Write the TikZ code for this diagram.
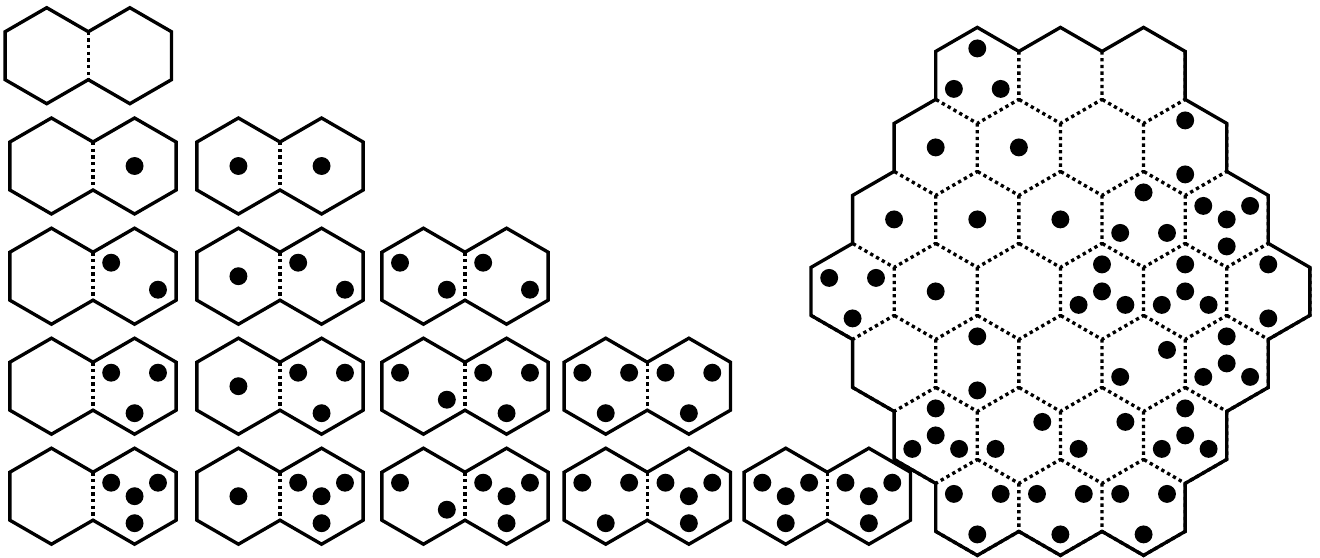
\documentclass[tikz,border=0pt]{standalone}
\tikzset{
  rim/.style={line width=1.9pt},
  seam/.style={line width=1.9pt, dash pattern=on 1.9pt off 1.9pt},
}
% pip layouts, offsets from the cell centre
\def\pipsnone{}
\def\pipsone{0/0}
\def\pipstwo{-23.4/-13.5, 23.4/13.5}
\def\pipsthree{-23.4/-13.5, 23.4/-13.5, 0/27}
\def\pipsfour{-23.4/-13.5, 23.4/-13.5, 0/27, 0/0}
\def\pipsthreeinv{0/-27, -23.4/13.5, 23.4/13.5}
\def\pipsfourinv{0/-27, -23.4/13.5, 23.4/13.5, 0/0}
\def\pipspair{0/-27, 0/27}
\def\pipsslant{23.4/-13.5, -23.4/13.5}
% #1,#2 middle of the shared side, #3 left pips, #4 right pips
\newcommand{\domino}[4]{
  \draw[rim] (#1,#2-24) -- ++(-41.57,-24) -- ++(-41.57,24) -- ++(0,48) -- ++(41.57,24)
    -- ++(41.57,-24) -- ++(41.57,24) -- ++(41.57,-24) -- ++(0,-48) -- ++(-41.57,-24) -- cycle;
  \draw[seam] (#1,#2-24) -- (#1,#2+24);
  \foreach \u/\v in #3 {\fill (#1-41.57,#2) ++(\u,\v) circle (5.1pt);}
  \foreach \u/\v in #4 {\fill (#1+41.57,#2) ++(\u,\v) circle (5.1pt);}
}
% board cell: east, south-east and south-west sides only
\newcommand{\cell}[3]{
  \draw[seam] (#1+41.57,#2-24) -- ++(0,48) -- ++(-41.57,24) -- ++(-41.57,-24);
  \foreach \u/\v in #3 {\fill (#1,#2) ++(\u,\v) circle (5.1pt);}
}
\begin{document}
\begin{tikzpicture}[x=0.02cm,y=-0.02cm]
\useasboundingbox (0,0) rectangle (1320,558);
% dominoes
\domino{88.3}{55.7}{\pipsnone}{\pipsnone}
\domino{93}{166}{\pipsnone}{\pipsone}
\domino{280}{166}{\pipsone}{\pipsone}
\domino{93}{276.2}{\pipsnone}{\pipstwo}
\domino{280}{276.2}{\pipsone}{\pipstwo}
\domino{465}{276.2}{\pipstwo}{\pipstwo}
\domino{93}{386.2}{\pipsnone}{\pipsthree}
\domino{280}{386.2}{\pipsone}{\pipsthree}
\domino{465}{386.2}{\pipstwo}{\pipsthree}
\domino{647.3}{386.2}{\pipsthree}{\pipsthree}
\domino{93}{496.2}{\pipsnone}{\pipsfour}
\domino{280}{496.2}{\pipsone}{\pipsfour}
\domino{465}{496.2}{\pipstwo}{\pipsfour}
\domino{647.3}{496.2}{\pipsthree}{\pipsfour}
\domino{827.3}{496.2}{\pipsfour}{\pipsfour}
% board
\cell{977.3}{75.4}{\pipsthreeinv} \cell{1060.4}{75.4}{\pipsnone} \cell{1143.6}{75.4}{\pipsnone}
\cell{935.7}{147.4}{\pipsone} \cell{1018.9}{147.4}{\pipsone} \cell{1102.0}{147.4}{\pipsnone} \cell{1185.2}{147.4}{\pipspair}
\cell{894.1}{219.4}{\pipsone} \cell{977.3}{219.4}{\pipsone} \cell{1060.4}{219.4}{\pipsone} \cell{1143.6}{219.4}{\pipsthreeinv} \cell{1226.7}{219.4}{\pipsfour}
\cell{852.6}{291.4}{\pipsthree} \cell{935.7}{291.4}{\pipsone} \cell{1018.9}{291.4}{\pipsnone} \cell{1102.0}{291.4}{\pipsfourinv} \cell{1185.2}{291.4}{\pipsfourinv} \cell{1268.3}{291.4}{\pipspair}
\cell{894.1}{363.4}{\pipsnone} \cell{977.3}{363.4}{\pipspair} \cell{1060.4}{363.4}{\pipsnone} \cell{1143.6}{363.4}{\pipsslant} \cell{1226.7}{363.4}{\pipsfourinv}
\cell{935.7}{435.4}{\pipsfourinv} \cell{1018.9}{435.4}{\pipsslant} \cell{1102.0}{435.4}{\pipsslant} \cell{1185.2}{435.4}{\pipsfourinv}
\cell{977.3}{507.4}{\pipsthree} \cell{1060.4}{507.4}{\pipsthree} \cell{1143.6}{507.4}{\pipsthree}
% board outline
\draw[rim] (977.3,27.4) \foreach \i in {1,2} {-- ++(41.57,24) -- ++(41.57,-24)} -- ++(41.57,24)
  \foreach \i in {1,2,3} {-- ++(0,48) -- ++(41.57,24)} -- ++(0,48)
  \foreach \i in {1,2,3} {-- ++(-41.57,24) -- ++(0,48)}
  \foreach \i in {1,2,3} {-- ++(-41.57,24) -- ++(-41.57,-24)} -- ++(0,-48)
  \foreach \i in {1,2,3} {-- ++(-41.57,-24) -- ++(0,-48)}
  \foreach \i in {1,2,3} {-- ++(41.57,-24) -- ++(0,-48)} -- cycle;
\end{tikzpicture}
\end{document}
